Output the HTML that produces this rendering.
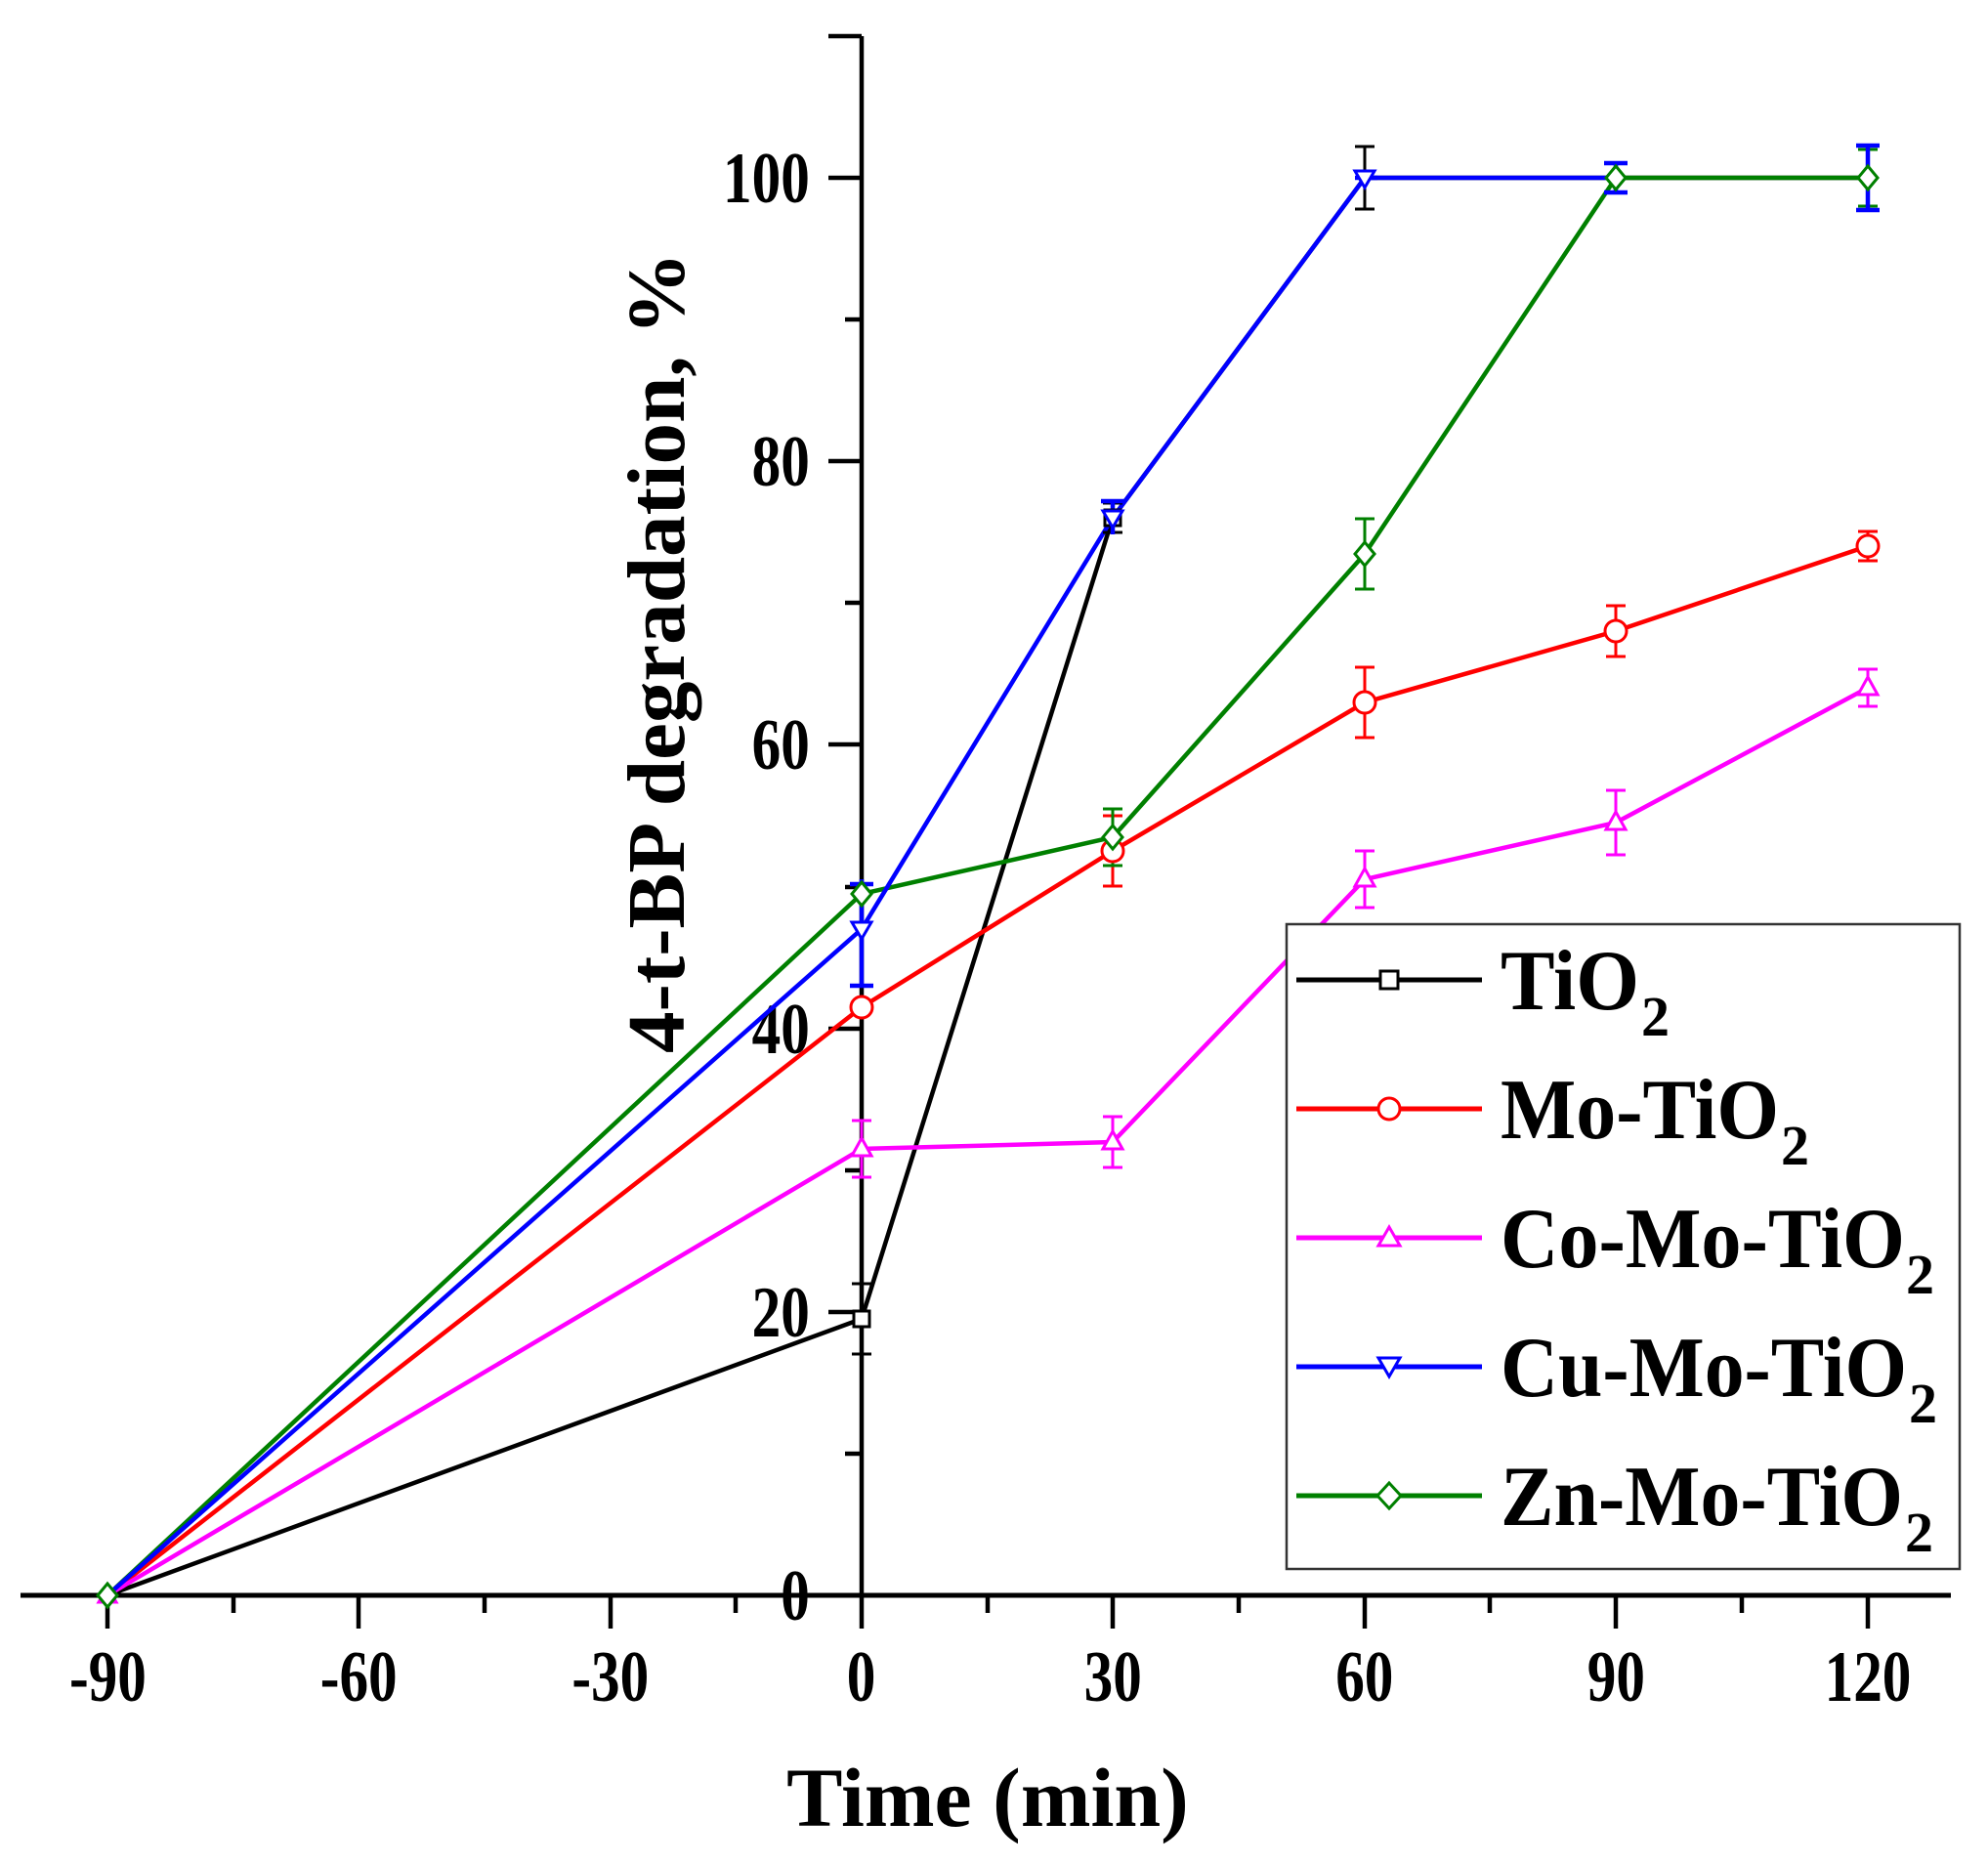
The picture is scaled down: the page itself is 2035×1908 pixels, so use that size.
<!DOCTYPE html>
<html><head><meta charset="utf-8"><style>
html,body{margin:0;padding:0;background:#fff;}
svg{display:block;font-family:"Liberation Serif",serif;font-weight:bold;}
</style></head><body>
<svg width="2035" height="1908" viewBox="0 0 2035 1908" xmlns="http://www.w3.org/2000/svg">
<g stroke="#000" stroke-width="4.5" fill="none">
<line x1="21" y1="1633" x2="1997" y2="1633" stroke-width="5"/>
<line x1="882" y1="37" x2="882" y2="1667"/>
<line x1="110" y1="1633" x2="110" y2="1667"/><line x1="367" y1="1633" x2="367" y2="1667"/><line x1="625" y1="1633" x2="625" y2="1667"/>
<line x1="1139" y1="1633" x2="1139" y2="1667"/><line x1="1397" y1="1633" x2="1397" y2="1667"/><line x1="1654" y1="1633" x2="1654" y2="1667"/><line x1="1912" y1="1633" x2="1912" y2="1667"/>
<line x1="239" y1="1633" x2="239" y2="1651"/><line x1="496" y1="1633" x2="496" y2="1651"/><line x1="753" y1="1633" x2="753" y2="1651"/>
<line x1="1011" y1="1633" x2="1011" y2="1651"/><line x1="1268" y1="1633" x2="1268" y2="1651"/><line x1="1525" y1="1633" x2="1525" y2="1651"/><line x1="1783" y1="1633" x2="1783" y2="1651"/>
<line x1="848" y1="182" x2="882" y2="182"/><line x1="848" y1="472" x2="882" y2="472"/><line x1="848" y1="762" x2="882" y2="762"/><line x1="848" y1="1053" x2="882" y2="1053"/><line x1="848" y1="1343" x2="882" y2="1343"/>
<line x1="848" y1="37" x2="882" y2="37"/>
<line x1="865" y1="327" x2="882" y2="327"/><line x1="865" y1="617" x2="882" y2="617"/><line x1="865" y1="908" x2="882" y2="908"/><line x1="865" y1="1198" x2="882" y2="1198"/><line x1="865" y1="1488" x2="882" y2="1488"/>
</g>
<g font-size="74" text-anchor="middle">
<g transform="translate(0,1741) scale(0.8,1)">
<text x="138">-90</text><text x="459">-60</text><text x="781">-30</text><text x="1102">0</text><text x="1424">30</text><text x="1746">60</text><text x="2068">90</text><text x="2390">120</text>
</g>
<g text-anchor="end" transform="scale(0.8,1)">
<text x="1036" y="207">100</text><text x="1036" y="497">80</text><text x="1036" y="787">60</text><text x="1036" y="1078">40</text><text x="1036" y="1368">20</text><text x="1036" y="1658">0</text>
</g>
</g>
<text x="1011" y="1869" font-size="86" text-anchor="middle">Time (min)</text>
<text transform="translate(700,668) rotate(-90)" font-size="84" text-anchor="middle" textLength="820" lengthAdjust="spacingAndGlyphs">4-t-BP degradation, %</text>

<g fill="none" stroke-width="4.5">
<polyline stroke="#000" points="110,1633 882,1350 1139,530 1397,182 1654,182 1912,182"/>
<polyline stroke="#ff0000" points="110,1633 882,1031 1139,871 1397,719 1654,646 1912,559"/>
<polyline stroke="#ff00ff" points="110,1633 882,1176 1139,1169 1397,900 1654,842 1912,704"/>
<polyline stroke="#008000" points="110,1633 882,915 1139,857 1397,567 1654,182 1912,182"/>
<polyline stroke="#0000ff" points="110,1633 882,951 1139,530 1397,182 1654,182"/>
</g>
<g stroke-width="3" fill="none">
<path stroke="#000" d="M882,1314V1386M872,1314H892M872,1386H892 M1139,515V545M1129,515H1149M1129,545H1149 M1397,150V214M1387,150H1407M1387,214H1407"/>
<path stroke="#ff0000" d="M1139,835V907M1129,835H1149M1129,907H1149 M1397,683V755M1387,683H1407M1387,755H1407 M1654,620V672M1644,620H1664M1644,672H1664 M1912,544V574M1902,544H1922M1902,574H1922"/>
<path stroke="#ff00ff" d="M882,1147V1205M872,1147H892M872,1205H892 M1139,1143V1195M1129,1143H1149M1129,1195H1149 M1397,871V929M1387,871H1407M1387,929H1407 M1654,809V875M1644,809H1664M1644,875H1664 M1912,685V723M1902,685H1922M1902,723H1922"/>
<path stroke="#008000" d="M1139,828V886M1129,828H1149M1129,886H1149 M1397,531V603M1387,531H1407M1387,603H1407 M1654,167V197M1644,167H1664M1644,197H1664 M1912,153V211M1902,153H1922M1902,211H1922"/>
<path stroke="#0000ff" stroke-width="4.5" d="M882,900V1009M870,905H894M870,1009H894 M1139,513V547M1127,513H1151 M1387,182H1410 M1654,167V197M1642,167H1666M1642,197H1666 M1912,149V215M1900,149H1924M1900,215H1924"/>
</g>
<g stroke-width="3" fill="#fff">
<rect x="874" y="1342" width="16" height="16" stroke="#000"/>
<rect x="1131" y="522" width="16" height="16" stroke="#000"/>
<circle cx="882" cy="1031" r="11" stroke="#ff0000"/><circle cx="1139" cy="871" r="11" stroke="#ff0000"/><circle cx="1397" cy="719" r="11" stroke="#ff0000"/><circle cx="1654" cy="646" r="11" stroke="#ff0000"/><circle cx="1912" cy="559" r="11" stroke="#ff0000"/>
<path stroke="#ff00ff" d="M882,1165l10,18h-20z M1139,1158l10,18h-20z M1397,889l10,18h-20z M1654,831l10,18h-20z M1912,693l10,18h-20z M110,1624l9,16h-18z"/>
<path stroke="#0000ff" d="M872,944h20l-10,17z M1129,523h20l-10,17z M1387,175h20l-10,17z"/>
<path stroke="#008000" d="M882,903l10,12l-10,12l-10,-12z M1139,845l10,12l-10,12l-10,-12z M1397,555l10,12l-10,12l-10,-12z M1654,170l10,12l-10,12l-10,-12z M1912,170l10,12l-10,12l-10,-12z M110,1621l10,12l-10,12l-10,-12z"/>
</g>
<rect x="1317" y="946" width="689" height="660" fill="#fff" stroke="#333" stroke-width="2.5"/>
<g stroke-width="5">
<line x1="1327" y1="1003" x2="1517" y2="1003" stroke="#000"/>
<line x1="1327" y1="1135" x2="1517" y2="1135" stroke="#ff0000"/>
<line x1="1327" y1="1267" x2="1517" y2="1267" stroke="#ff00ff"/>
<line x1="1327" y1="1399" x2="1517" y2="1399" stroke="#0000ff"/>
<line x1="1327" y1="1531" x2="1517" y2="1531" stroke="#008000"/>
</g>
<g stroke-width="3" fill="#fff">
<rect x="1413" y="994" width="18" height="18" stroke="#000"/>
<circle cx="1422" cy="1135" r="11" stroke="#ff0000"/>
<path stroke="#ff00ff" d="M1422,1256l11,19h-22z"/>
<path stroke="#0000ff" d="M1411,1390h22l-11,19z"/>
<path stroke="#008000" d="M1422,1518l12,13l-12,13l-12,-13z"/>
</g>
<g font-size="88">
<text x="1536" y="1033" textLength="142" lengthAdjust="spacingAndGlyphs">TiO</text><text x="1680" y="1060" font-size="58">2</text>
<text x="1536" y="1165" textLength="285" lengthAdjust="spacingAndGlyphs">Mo-TiO</text><text x="1823" y="1192" font-size="58">2</text>
<text x="1536" y="1297" textLength="414" lengthAdjust="spacingAndGlyphs">Co-Mo-TiO</text><text x="1951" y="1324" font-size="58">2</text>
<text x="1536" y="1429" textLength="416" lengthAdjust="spacingAndGlyphs">Cu-Mo-TiO</text><text x="1954" y="1456" font-size="58">2</text>
<text x="1536" y="1561" textLength="412" lengthAdjust="spacingAndGlyphs">Zn-Mo-TiO</text><text x="1950" y="1588" font-size="58">2</text>
</g>
</svg>
</body></html>
